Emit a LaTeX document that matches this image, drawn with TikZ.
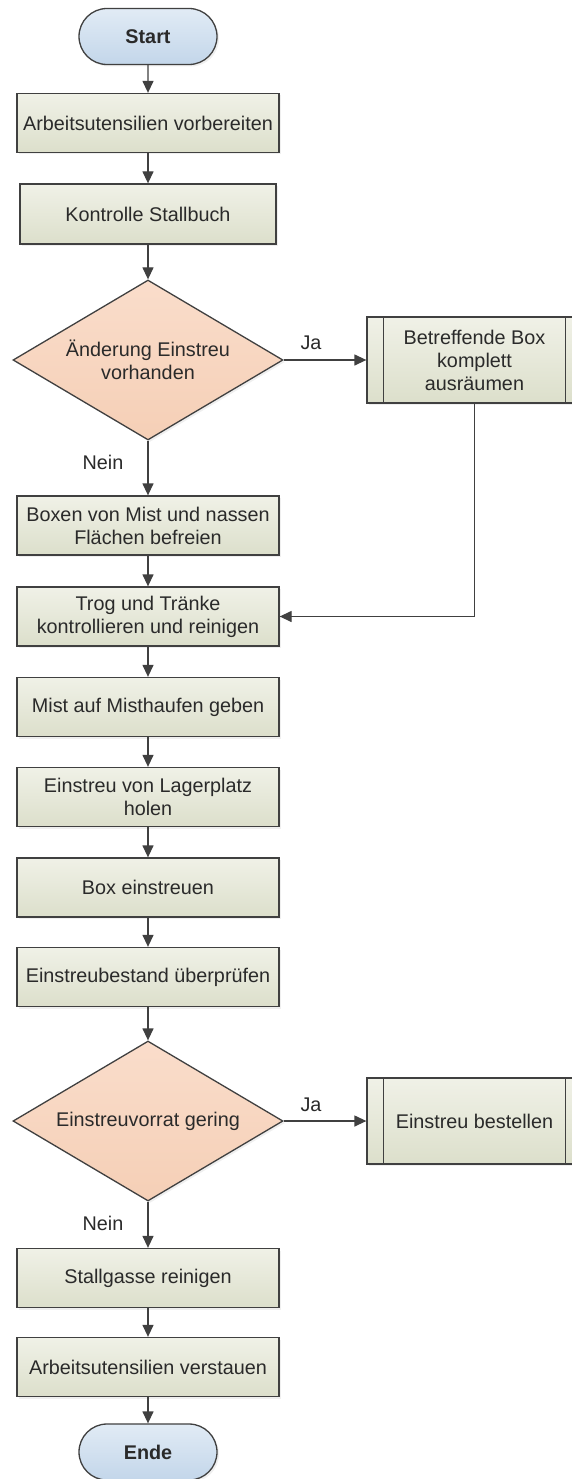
\documentclass[tikz,border=0pt]{standalone}
\usepackage{fontspec}
\setmainfont{Liberation Sans}
\usetikzlibrary{shapes.geometric,shapes.misc,arrows.meta,shadows}

\definecolor{edgegray}{HTML}{404040}
\definecolor{txtgray}{HTML}{2A2A2A}
\definecolor{proctop}{HTML}{F0F1E7}
\definecolor{procbot}{HTML}{DCDFCB}
\definecolor{dectop}{HTML}{FADDCB}
\definecolor{decbot}{HTML}{F5CFB6}
\definecolor{termtop}{HTML}{E1EBF5}
\definecolor{termbot}{HTML}{C3D6EA}

\tikzset{
  base/.style={draw=edgegray, line width=1.3pt, text=txtgray, align=center,
    font=\fontsize{19.8}{23}\selectfont, inner sep=2pt,
    drop shadow={opacity=0.12, shadow xshift=2pt, shadow yshift=-2pt}},
  proc/.style={base, rectangle, top color=proctop, bottom color=procbot,
    minimum width=262pt, minimum height=59pt},
  subproc/.style={proc, minimum width=215pt, minimum height=86pt},
  decision/.style={base, diamond, top color=dectop, bottom color=decbot,
    minimum width=270pt, minimum height=160pt, inner sep=0pt, aspect=1.69},
  term/.style={base, rounded rectangle, top color=termtop, bottom color=termbot,
    minimum width=142pt, minimum height=56pt, font=\fontsize{19.8}{23}\selectfont\bfseries},
  arr/.style={draw=edgegray, line width=1.3pt, -{Triangle[length=12pt,width=11pt]}},
  lbl/.style={text=txtgray, font=\fontsize{19.8}{23}\selectfont, inner sep=0pt},
}

\begin{document}
\begin{tikzpicture}[x=1pt, y=-1pt]
  \clip (0,0) rectangle (572,1479);
  \fill[white] (0,0) rectangle (572,1479);

  % main column
  \node[term]  (start) at (148,36.5) {Start};
  \node[proc]  (b1) at (148,123)  {Arbeitsutensilien vorbereiten};
  \node[proc, minimum width=256pt, minimum height=60pt] (b2) at (148,214) {Kontrolle Stallbuch};
  \node[decision] (d1) at (148,360) {Änderung Einstreu\\vorhanden};
  \node[subproc] (s1) at (474.5,360) {Betreffende Box\\komplett\\ausräumen};
  \node[proc]  (b3) at (148,525.5) {Boxen von Mist und nassen\\Flächen befreien};
  \node[proc]  (b4) at (148,616.5) {Trog und Tränke\\kontrollieren und reinigen};
  \node[proc]  (b5) at (148,707)   {Mist auf Misthaufen geben};
  \node[proc]  (b6) at (148,797)   {Einstreu von Lagerplatz\\holen};
  \node[proc]  (b7) at (148,887.5) {Box einstreuen};
  \node[proc]  (b8) at (148,977)   {Einstreubestand überprüfen};
  \node[decision] (d2) at (148,1121) {Einstreuvorrat gering};
  \node[subproc] (s2) at (474.5,1121) {Einstreu bestellen};
  \node[proc]  (b9) at (148,1278)  {Stallgasse reinigen};
  \node[proc]  (b10) at (148,1367) {Arbeitsutensilien verstauen};
  \node[term]  (ende) at (148,1452) {Ende};

  % inner bars of the predefined-process boxes
  \foreach \s in {s1,s2}{
    \draw[edgegray, line width=1.3pt] ([xshift=17pt]\s.north west) -- ([xshift=17pt]\s.south west);
    \draw[edgegray, line width=1.3pt] ([xshift=-17pt]\s.north east) -- ([xshift=-17pt]\s.south east);
  }

  % connectors
  \draw[arr] (start) -- (b1);
  \draw[arr] (b1) -- (b2);
  \draw[arr] (b2) -- (d1);
  \draw[arr] (d1.east) -- (s1.west);
  \draw[arr] (d1.south) -- (b3.north);
  \draw[arr] (b3) -- (b4);
  \draw[arr] (s1.south) |- (b4.east);
  \draw[arr] (b4) -- (b5);
  \draw[arr] (b5) -- (b6);
  \draw[arr] (b6) -- (b7);
  \draw[arr] (b7) -- (b8);
  \draw[arr] (b8) -- (d2);
  \draw[arr] (d2.east) -- (s2.west);
  \draw[arr] (d2.south) -- (b9.north);
  \draw[arr] (b9) -- (b10);
  \draw[arr] (b10) -- (ende);

  % branch labels
  \node[lbl] (ja1) at (311,343) {Ja};
  \node[lbl] (nein1) at (103,462) {Nein};
  \node[lbl] (ja2) at (311,1105) {Ja};
  \node[lbl] (nein2) at (103,1223) {Nein};
\end{tikzpicture}
\end{document}
